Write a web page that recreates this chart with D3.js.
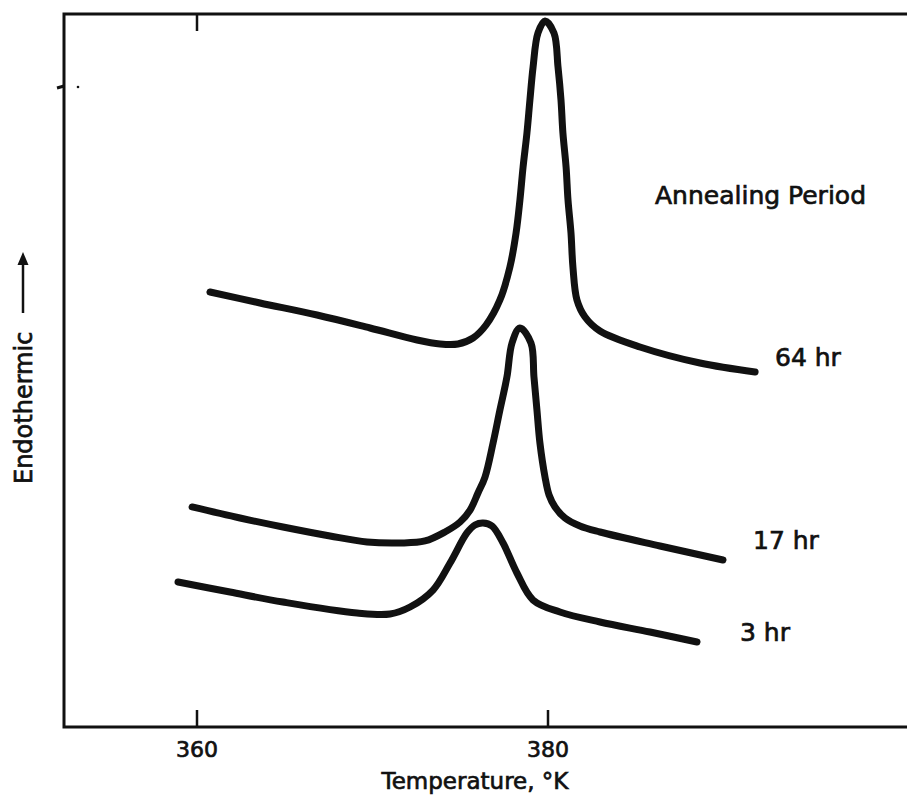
<!DOCTYPE html>
<html>
<head>
<meta charset="utf-8">
<script src="https://cdn.jsdelivr.net/npm/d3@7"></script>
<style>
  html, body { margin: 0; padding: 0; background: #fff; }
  svg { display: block; }
  text { font-family: "DejaVu Sans", "Liberation Sans", sans-serif; fill: #111; stroke: #111; stroke-width: 0.7px; }
</style>
</head>
<body>
<svg id="chart" width="907" height="797"></svg>
<script>
// ---- data (temperature in K, endothermic signal in arbitrary units) ----
const seriesNames = ["64 hr", "17 hr", "3 hr"];

const temp64 = [360.74, 363.59, 366.84, 369.86, 372.54, 373.85, 374.87, 375.73, 376.47, 377.26, 377.83, 378.18, 378.40, 378.58, 378.80, 378.97, 379.15, 379.43, 379.83, 380.34, 380.57, 380.74, 380.85, 381.03, 381.14, 381.31, 381.42, 381.65, 382.11, 382.96, 385.24, 388.66, 391.80];
const val64  = [61.01, 59.47, 57.78, 55.96, 54.28, 53.72, 53.72, 54.56, 56.38, 59.89, 64.52, 69.28, 73.91, 78.54, 83.31, 87.94, 92.57, 97.34, 99.02, 97.34, 92.57, 87.94, 83.31, 78.54, 73.91, 69.28, 64.52, 59.89, 57.50, 55.54, 53.30, 51.05, 49.79];

const temp17 = [359.72, 362.45, 364.90, 367.58, 369.69, 371.57, 372.99, 374.13, 374.99, 375.56, 376.01, 376.41, 376.87, 377.26, 377.66, 377.95, 378.40, 379.03, 379.20, 379.37, 379.54, 379.83, 380.06, 380.40, 380.97, 381.82, 382.96, 386.38, 389.97];
const val17  = [30.86, 29.31, 28.05, 26.79, 25.95, 25.81, 26.09, 27.35, 28.75, 30.43, 32.82, 35.06, 39.83, 44.46, 49.09, 53.86, 55.96, 53.86, 49.09, 44.46, 39.83, 35.06, 32.54, 30.86, 29.31, 28.19, 27.35, 25.39, 23.42];

const temp3 = [358.92, 361.88, 364.90, 369.12, 371.00, 372.14, 373.45, 374.42, 375.38, 375.84, 376.30, 376.81, 377.44, 378.23, 379.15, 380.68, 382.96, 385.81, 388.49];
const val3  = [20.34, 18.93, 17.53, 15.99, 15.85, 16.83, 19.21, 23.00, 27.21, 28.33, 28.61, 28.19, 25.81, 21.60, 17.81, 16.13, 14.73, 13.32, 11.92];

const xTicks = [360, 380];
const xTickLabels = ["360", "380"];
const topTicks = [360];

const legendTitle = "Annealing Period";
const xTitle = "Temperature, °K";
const yTitle = "Endothermic";

// ---- layout ----
const svg = d3.select("#chart");
const mLeft = 64, mTop = 14, mBottom = 727, mRight = 907;

const x = d3.scaleLinear().domain([360, 380]).range([197, 548]);
const y = d3.scaleLinear().domain([0, 100]).range([mBottom, mTop]);

// frame
svg.append("path")
  .attr("d", `M${mRight},${mTop}H${mLeft}V${mBottom}H${mRight}`)
  .attr("fill", "none").attr("stroke", "#111").attr("stroke-width", 3);

// bottom ticks (inward)
svg.append("g").selectAll("line").data(xTicks).join("line")
  .attr("x1", d => x(d)).attr("x2", d => x(d))
  .attr("y1", mBottom).attr("y2", mBottom - 17)
  .attr("stroke", "#111").attr("stroke-width", 2.5);

// top tick (inward)
svg.append("g").selectAll("line").data(topTicks).join("line")
  .attr("x1", d => x(d)).attr("x2", d => x(d))
  .attr("y1", mTop).attr("y2", mTop + 17)
  .attr("stroke", "#111").attr("stroke-width", 2.5);

// small mark on left axis
svg.append("line").attr("x1", mLeft - 7).attr("x2", mLeft).attr("y1", 88).attr("y2", 86)
  .attr("stroke", "#111").attr("stroke-width", 3);
svg.append("circle").attr("cx", 78).attr("cy", 87).attr("r", 1.3).attr("fill", "#111");

// tick labels
svg.append("g").selectAll("text").data(xTicks).join("text")
  .attr("x", d => x(d)).attr("y", 757)
  .attr("text-anchor", "middle").attr("font-size", 22)
  .text((d, i) => xTickLabels[i]);

// axis titles
svg.append("text").attr("x", 475).attr("y", 789)
  .attr("text-anchor", "middle").attr("font-size", 23).text(xTitle);

svg.append("text")
  .attr("transform", "translate(32,484) rotate(-90)")
  .attr("text-anchor", "start").attr("font-size", 24).text(yTitle);

// arrow for y title
svg.append("line").attr("x1", 23).attr("x2", 23).attr("y1", 313).attr("y2", 262)
  .attr("stroke", "#111").attr("stroke-width", 2.5);
svg.append("path").attr("d", "M23,252 L17.5,265 L28.5,265 Z").attr("fill", "#111");

// curves
const line = d3.line()
  .x(d => x(d[0])).y(d => y(d[1]))
  .curve(d3.curveCatmullRom.alpha(0.5));

const series = [
  { name: seriesNames[0], t: temp64, v: val64 },
  { name: seriesNames[1], t: temp17, v: val17 },
  { name: seriesNames[2], t: temp3,  v: val3 }
];

svg.append("g").selectAll("path").data(series).join("path")
  .attr("d", s => line(s.t.map((t, i) => [t, s.v[i]])))
  .attr("fill", "none").attr("stroke", "#111")
  .attr("stroke-width", 7).attr("stroke-linecap", "round").attr("stroke-linejoin", "round");

// annotations
svg.append("text").attr("x", 655).attr("y", 204).attr("font-size", 25).text(legendTitle);

const labelPos = [[775, 366], [753, 549], [740, 641]];
svg.append("g").selectAll("text").data(series).join("text")
  .attr("x", (d, i) => labelPos[i][0]).attr("y", (d, i) => labelPos[i][1])
  .attr("font-size", 25).text(d => d.name);
</script>
</body>
</html>
